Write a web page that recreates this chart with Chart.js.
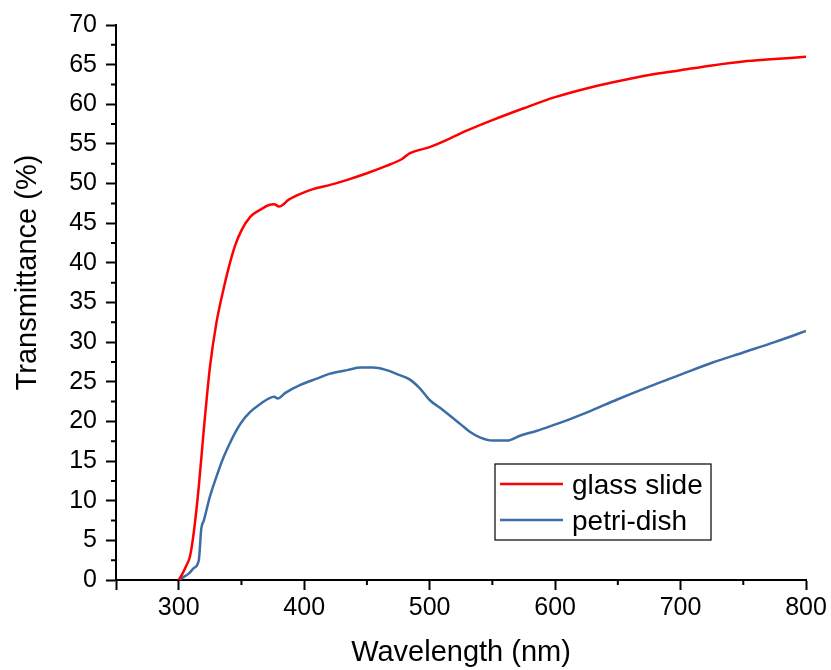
<!DOCTYPE html>
<html>
<head>
<meta charset="utf-8">
<script src="https://cdn.jsdelivr.net/npm/chart.js@4/dist/chart.umd.min.js"></script>
<style>
  html, body { margin: 0; padding: 0; background: #fff; }
  #wrap { width: 831px; height: 670px; }
</style>
</head>
<body>
<div id="wrap"><canvas id="c" width="831" height="670"></canvas></div>
<script>
// datos
const glassWl = [300, 303, 306, 309, 312, 316, 320, 325, 330, 335, 340, 345, 350, 357, 365, 372, 376, 380, 388, 397, 407, 420, 435, 450, 465, 478, 484, 500, 515, 530, 550, 575, 600, 625, 650, 675, 700, 725, 750, 775, 800];
const glassT  = [0, 0.8, 1.8, 3.0, 6.0, 11.8, 19.0, 27.0, 32.4, 36.2, 39.5, 42.2, 44.1, 45.8, 46.7, 47.3, 47.4, 47.1, 48.0, 48.7, 49.3, 49.8, 50.5, 51.3, 52.2, 53.1, 53.8, 54.6, 55.6, 56.7, 58.0, 59.5, 60.9, 62.0, 62.9, 63.7, 64.3, 64.9, 65.4, 65.7, 66.0];

const petriWl = [300, 304, 308, 312, 316, 318, 320, 325, 330, 335, 340, 345, 350, 357, 365, 372, 376, 379, 385, 397, 410, 420, 435, 445, 455, 465, 475, 484, 492, 500, 510, 518, 525, 532, 540, 550, 562, 572, 585, 598, 612, 625, 650, 675, 700, 725, 750, 775, 800];
const petriT  = [0, 0.4, 0.8, 1.5, 2.5, 6.5, 7.5, 10.6, 13.0, 15.2, 17.0, 18.6, 19.9, 21.2, 22.2, 22.9, 23.1, 22.9, 23.6, 24.6, 25.4, 26.0, 26.5, 26.8, 26.8, 26.5, 25.9, 25.3, 24.2, 22.7, 21.5, 20.5, 19.6, 18.7, 18.0, 17.6, 17.6, 18.2, 18.8, 19.5, 20.3, 21.1, 22.8, 24.4, 25.9, 27.4, 28.7, 30.0, 31.4];

const seriesNames = ["glass slide", "petri-dish"];
const seriesColors = ["#ff0000", "#3b6ea5"];
const xTicks = [250, 300, 400, 500, 600, 700, 800];
const xMinorTicks = [350, 450, 550, 650, 750];
const yMinorTicks = [2.5, 7.5, 12.5, 17.5, 22.5, 27.5, 32.5, 37.5, 42.5, 47.5, 52.5, 57.5, 62.5, 67.5];
const yTitle = "Transmittance (%)";

const FONT = "'Liberation Sans', Arial, sans-serif";

function pts(xs, ys) { return xs.map((x, i) => ({ x, y: ys[i] })); }

// ticks menores, título Y (algo desplazado hacia arriba) y leyenda con recuadro
const extras = {
  id: "extras",
  afterDraw(chart) {
    const ctx = chart.ctx, xs = chart.scales.x, ys = chart.scales.y;
    ctx.save();
    ctx.strokeStyle = "#000"; ctx.lineWidth = 2;
    ctx.beginPath();
    xMinorTicks.forEach(v => { const p = xs.getPixelForValue(v); ctx.moveTo(p, xs.top); ctx.lineTo(p, xs.top + 5); });
    yMinorTicks.forEach(v => { const p = ys.getPixelForValue(v); ctx.moveTo(ys.right, p); ctx.lineTo(ys.right - 5, p); });
    ctx.stroke();

    const a = chart.chartArea;
    ctx.save();
    ctx.translate(28, (a.top + a.bottom) / 2 - 30);
    ctx.rotate(-Math.PI / 2);
    ctx.font = "29px " + FONT; ctx.fillStyle = "#000";
    ctx.textAlign = "center"; ctx.textBaseline = "middle";
    ctx.fillText(yTitle, 0, 0);
    ctx.restore();

    const bx = a.right - 311, by = a.bottom - 116, bw = 216, bh = 76;
    ctx.lineWidth = 1.2; ctx.strokeStyle = "#000";
    ctx.strokeRect(bx, by, bw, bh);
    ctx.font = "28px " + FONT; ctx.fillStyle = "#000"; ctx.textBaseline = "middle";
    chart.data.datasets.forEach((ds, i) => {
      const ly = by + 20 + i * 36;
      ctx.strokeStyle = ds.borderColor; ctx.lineWidth = 2.5;
      ctx.beginPath(); ctx.moveTo(bx + 5, ly); ctx.lineTo(bx + 68, ly); ctx.stroke();
      ctx.fillText(ds.label, bx + 77, ly + 2);
    });
    ctx.restore();
  }
};

new Chart(document.getElementById("c"), {
  type: "line",
  data: {
    datasets: [
      { label: seriesNames[0], data: pts(glassWl, glassT), borderColor: seriesColors[0], borderWidth: 2.5, pointRadius: 0, cubicInterpolationMode: "monotone" },
      { label: seriesNames[1], data: pts(petriWl, petriT), borderColor: seriesColors[1], borderWidth: 2.5, pointRadius: 0, cubicInterpolationMode: "monotone" }
    ]
  },
  options: {
    responsive: false,
    animation: false,
    layout: { padding: { top: 25, right: 25, left: 0, bottom: 0 } },
    plugins: { legend: { display: false }, tooltip: { enabled: false } },
    scales: {
      x: {
        type: "linear", min: 250, max: 800,
        afterBuildTicks: s => { s.ticks = xTicks.map(v => ({ value: v })); },
        ticks: { color: "#000", font: { family: FONT, size: 25 }, padding: 3,
                 callback: v => (v === 250 ? "" : v), maxRotation: 0, autoSkip: false },
        grid: { drawOnChartArea: false, tickLength: 10, tickColor: "#000", tickWidth: 2 },
        border: { color: "#000", width: 2 },
        title: { display: true, text: "Wavelength (nm)", color: "#000", font: { family: FONT, size: 29 }, padding: { top: 0, bottom: 0 } },
        afterFit: s => { s.height = 90; }
      },
      y: {
        min: 0, max: 70,
        ticks: { stepSize: 5, color: "#000", font: { family: FONT, size: 25 }, padding: 9 },
        grid: { drawOnChartArea: false, tickLength: 10, tickColor: "#000", tickWidth: 2 },
        border: { color: "#000", width: 2 },
        title: { display: false },
        afterFit: s => { s.width = 116; }
      }
    }
  },
  plugins: [extras]
});
</script>
</body>
</html>
